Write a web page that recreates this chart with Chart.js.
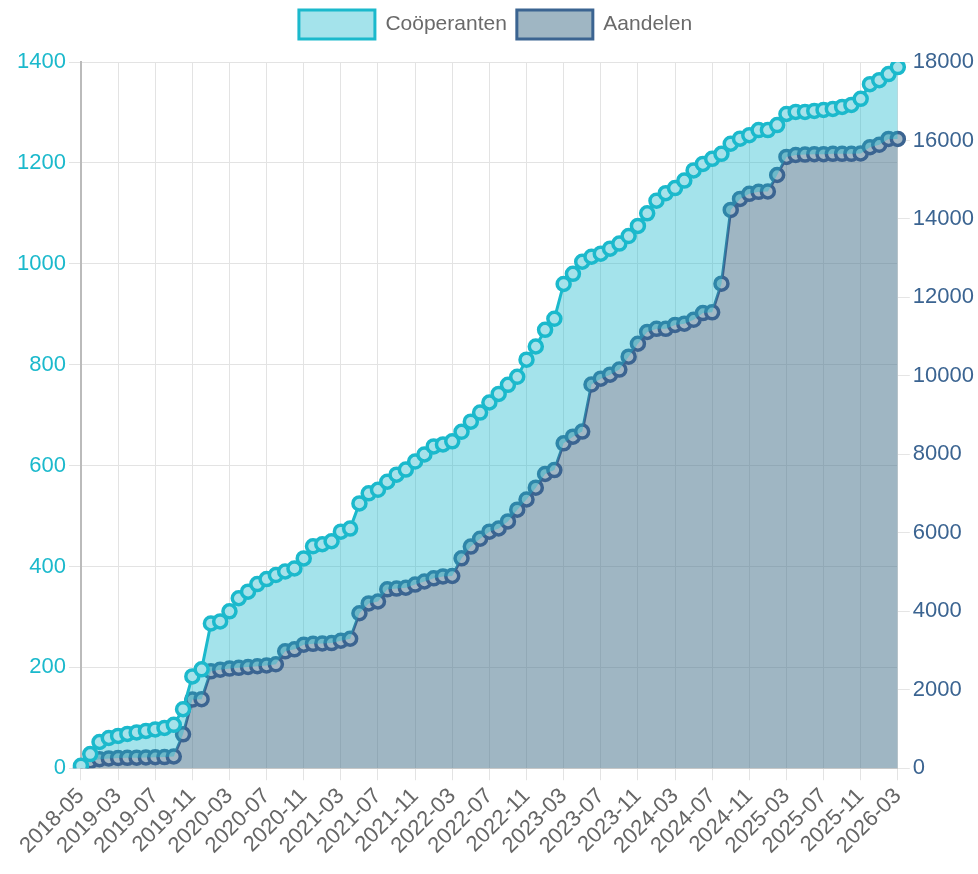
<!DOCTYPE html>
<html>
<head>
<meta charset="utf-8">
<script src="https://cdn.jsdelivr.net/npm/chart.js@4.4.1/dist/chart.umd.min.js"></script>
<style>
  html, body { margin: 0; padding: 0; background: #fff; }
  #wrap { width: 978px; height: 874px; }
</style>
</head>
<body>
<div id="wrap"><canvas id="lineChart"></canvas></div>
<script>
// maanden (categorieen)
var maanden = [
  '2018-05', '2018-09', '2018-12', '2019-02',
  '2019-03', '2019-04', '2019-05', '2019-06', '2019-07', '2019-08', '2019-09', '2019-10', '2019-11', '2019-12',
  '2020-01', '2020-02', '2020-03', '2020-04', '2020-05', '2020-06', '2020-07', '2020-08', '2020-09', '2020-10', '2020-11', '2020-12',
  '2021-01', '2021-02', '2021-03', '2021-04', '2021-05', '2021-06', '2021-07', '2021-08', '2021-09', '2021-10', '2021-11', '2021-12',
  '2022-01', '2022-02', '2022-03', '2022-04', '2022-05', '2022-06', '2022-07', '2022-08', '2022-09', '2022-10', '2022-11', '2022-12',
  '2023-01', '2023-02', '2023-03', '2023-04', '2023-05', '2023-06', '2023-07', '2023-08', '2023-09', '2023-10', '2023-11', '2023-12',
  '2024-01', '2024-02', '2024-03', '2024-04', '2024-05', '2024-06', '2024-07', '2024-08', '2024-09', '2024-10', '2024-11', '2024-12',
  '2025-01', '2025-02', '2025-03', '2025-04', '2025-05', '2025-06', '2025-07', '2025-08', '2025-09', '2025-10', '2025-11', '2025-12',
  '2026-01', '2026-02', '2026-03'
];

// aantal cooperanten (linker as)
var cooperanten = [
  5, 28, 52, 60,
  64, 68, 71, 74, 77, 80, 86, 117, 182, 196,
  287, 291, 311, 337, 350, 365, 375, 383, 390, 396, 416, 440,
  444, 450, 469, 475, 525, 545, 552, 568, 582, 592, 608, 622,
  638, 642, 648, 667, 687, 705, 725, 742, 760, 776, 810, 836,
  869, 891, 960, 980, 1004, 1014, 1020, 1030, 1040, 1055, 1075, 1100,
  1125, 1140, 1150, 1165, 1185, 1198, 1208, 1218, 1238, 1248, 1255, 1265,
  1265, 1275, 1297, 1301, 1301, 1303, 1305, 1307, 1311, 1315, 1327, 1356,
  1364, 1376, 1390
];

// aantal aandelen (rechter as)
var aandelen = [
  0, 180, 230, 250,
  260, 265, 270, 275, 280, 285, 300, 865, 1750, 1760,
  2470, 2510, 2540, 2560, 2580, 2600, 2620, 2650, 2980, 3030, 3150, 3170,
  3180, 3190, 3250, 3300, 3950, 4200, 4250, 4560, 4580, 4600, 4680, 4760,
  4840, 4890, 4900, 5350, 5650, 5850, 6030, 6110, 6290, 6590, 6850, 7150,
  7500, 7600, 8280, 8450, 8580, 9780, 9930, 10030, 10160, 10490, 10820, 11120,
  11200, 11200, 11300, 11330, 11430, 11600, 11620, 12350, 14230, 14510, 14640, 14690,
  14700, 15120, 15580, 15630, 15640, 15650, 15650, 15660, 15660, 15660, 15670, 15830,
  15890, 16040, 16040
];

var cyaan = '#1bb9cc';
var cyaanVlak = 'rgba(27,185,204,0.4)';
var blauw = '#3b6491';
var blauwVlak = 'rgba(70,115,140,0.52)';

Chart.defaults.font.family = "'Liberation Sans', Arial, sans-serif";
Chart.defaults.font.size = 22;
Chart.defaults.color = '#666';

// wat extra ruimte onder de legenda
var legendaRuimte = {
  id: 'legendaRuimte',
  beforeInit: function (chart) {
    var fit = chart.legend.fit;
    chart.legend.fit = function () {
      fit.bind(chart.legend)();
      this.height += 13;
    };
  }
};

var lineChartCanvas = document.getElementById('lineChart').getContext('2d');

new Chart(lineChartCanvas, {
  type: 'line',
  plugins: [legendaRuimte],
  data: {
    labels: maanden,
    datasets: [
      {
        label: 'Coöperanten',
        data: cooperanten,
        yAxisID: 'yLinks',
        borderColor: cyaan,
        backgroundColor: cyaanVlak,
        pointBackgroundColor: '#a6e2ea',
        pointBorderColor: cyaan,
        borderWidth: 3,
        pointRadius: 6.5,
        pointBorderWidth: 3.5,
        fill: 1
      },
      {
        label: 'Aandelen',
        data: aandelen,
        yAxisID: 'yRechts',
        borderColor: blauw,
        backgroundColor: blauwVlak,
        pointBackgroundColor: '#a3b9c6',
        pointBorderColor: blauw,
        borderWidth: 3,
        pointRadius: 6.5,
        pointBorderWidth: 3.5,
        fill: 'origin'
      }
    ]
  },
  options: {
    responsive: true,
    maintainAspectRatio: false,
    animation: false,
    layout: { padding: { left: 14, right: 1, bottom: 12 } },
    plugins: {
      legend: {
        position: 'top',
        labels: { boxWidth: 76, boxHeight: 29, font: { size: 21 }, color: '#6a6a6a' }
      },
      tooltip: { enabled: false }
    },
    scales: {
      x: {
        grid: { color: '#e3e3e3', tickLength: 12 },
        border: { color: '#c8c8c8' },
        ticks: {
          autoSkip: false,
          maxRotation: 45,
          minRotation: 45,
          color: '#666',
          callback: function (value, index) {
            return index % 4 === 0 ? maanden[index] : null;
          }
        }
      },
      yLinks: {
        position: 'left',
        min: 0,
        max: 1400,
        grid: { color: '#e3e3e3', tickLength: 12 },
        border: { color: '#bbb', width: 2 },
        ticks: {
          stepSize: 200,
          color: cyaan,
          callback: function (value) { return String(value); }
        }
      },
      yRechts: {
        position: 'right',
        min: 0,
        max: 18000,
        grid: { drawOnChartArea: false, tickLength: 12 },
        border: { display: false },
        ticks: {
          stepSize: 2000,
          color: blauw,
          callback: function (value) { return String(value); }
        }
      }
    }
  }
});
</script>
</body>
</html>
